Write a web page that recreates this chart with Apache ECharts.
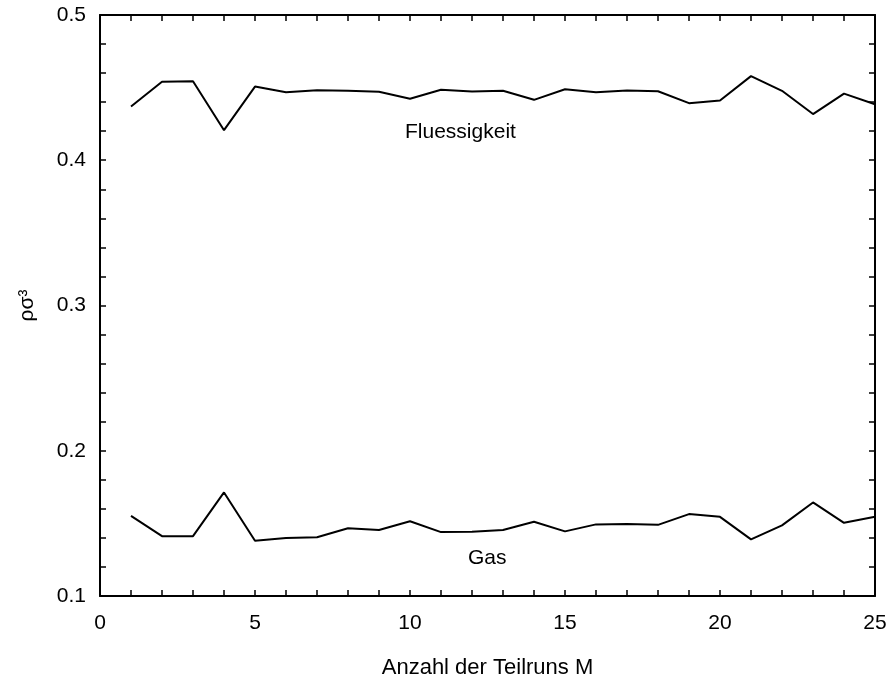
<!DOCTYPE html>
<html>
<head>
<meta charset="utf-8">
<style>
  html, body { margin: 0; padding: 0; background: #fff; }
  #chart { width: 891px; height: 685px; }
</style>
<script src="https://cdn.jsdelivr.net/npm/echarts@6/dist/echarts.min.js"></script>
</head>
<body>
<div id="chart"></div>
<script>
// Number of sub-runs M
const runs = [1, 2, 3, 4, 5, 6, 7, 8, 9, 10, 11, 12, 13, 14, 15, 16, 17, 18, 19, 20, 21, 22, 23, 24, 25];

// Reduced density of the liquid phase per sub-run
const liquidDensity = [0.437, 0.454, 0.4544, 0.4207, 0.4507, 0.4468, 0.4482, 0.4478, 0.4471, 0.4423,
  0.4485, 0.4473, 0.4478, 0.4416, 0.4489, 0.4468, 0.4480, 0.4475, 0.4393, 0.4411,
  0.4579, 0.4478, 0.4318, 0.4459, 0.4386];

// Reduced density of the gas phase per sub-run
const gasDensity = [0.1552, 0.1412, 0.1412, 0.1713, 0.1380, 0.1399, 0.1405, 0.1467, 0.1454, 0.1515,
  0.1440, 0.1442, 0.1454, 0.1511, 0.1445, 0.1493, 0.1495, 0.1490, 0.1564, 0.1545,
  0.1390, 0.1486, 0.1644, 0.1504, 0.1545];

// Labelled tick values
const xTickLabels = [0, 5, 10, 15, 20, 25];
const yTickLabels = ['0.1', '0.2', '0.3', '0.4', '0.5'];

const xTitle = 'Anzahl der Teilruns M';
const yTitle = 'ρσ³';
const liquidLabel = 'Fluessigkeit';
const gasLabel = 'Gas';

const FONT = '"Liberation Sans", Arial, sans-serif';
const FS = 21;

const chart = echarts.init(document.getElementById('chart'), null, { renderer: 'canvas' });

// Frame lines stay on the grid edges instead of snapping to zero
const frameLine = { show: true, onZero: false, lineStyle: { color: '#000', width: 2 } };
const tick = { show: true, inside: true, length: 6, lineStyle: { color: '#000', width: 1.5 } };

// Every small step gets a tick; only the major values get a label
const xFmt = v => (Math.abs(v - Math.round(v)) < 1e-6 && xTickLabels.indexOf(Math.round(v)) >= 0) ? String(Math.round(v)) : '';
const yFmt = v => {
  const s = v.toFixed(1);
  return (Math.abs(v - parseFloat(s)) < 1e-6 && yTickLabels.indexOf(s) >= 0) ? s : '';
};

function pairs(ys) { return runs.map((m, i) => [m, ys[i]]); }

chart.setOption({
  animation: false,
  backgroundColor: '#fff',
  grid: { left: 100, right: 16, top: 15, bottom: 89, containLabel: false },
  xAxis: [
    {
      type: 'value', min: 0, max: 25, interval: 1, position: 'bottom',
      name: xTitle, nameLocation: 'middle', nameGap: 61,
      nameTextStyle: { color: '#000', fontFamily: FONT, fontSize: 22 },
      axisLine: frameLine, axisTick: tick,
      axisLabel: { color: '#000', fontFamily: FONT, fontSize: FS, margin: 17, formatter: xFmt, interval: 0 },
      splitLine: { show: false }
    },
    {
      type: 'value', min: 0, max: 25, interval: 1, position: 'top',
      axisLine: frameLine, axisTick: tick,
      axisLabel: { show: false }, splitLine: { show: false }
    }
  ],
  yAxis: [
    {
      type: 'value', min: 0.1, max: 0.5, interval: 0.02, position: 'left',
      name: yTitle, nameLocation: 'middle', nameGap: 62, nameRotate: 90,
      nameTextStyle: { color: '#000', fontFamily: FONT, fontSize: FS },
      axisLine: frameLine, axisTick: tick,
      axisLabel: { color: '#000', fontFamily: FONT, fontSize: FS, margin: 14, formatter: yFmt, interval: 0 },
      splitLine: { show: false }
    },
    {
      type: 'value', min: 0.1, max: 0.5, interval: 0.02, position: 'right',
      axisLine: frameLine, axisTick: tick,
      axisLabel: { show: false }, splitLine: { show: false }
    }
  ],
  series: [
    {
      name: liquidLabel, type: 'line', data: pairs(liquidDensity),
      showSymbol: false, symbol: 'none',
      lineStyle: { color: '#000', width: 2 }
    },
    {
      name: gasLabel, type: 'line', data: pairs(gasDensity),
      showSymbol: false, symbol: 'none',
      lineStyle: { color: '#000', width: 2 }
    }
  ],
  graphic: [
    { type: 'text', left: 461 - 56, top: 134 - 12,
      style: { text: liquidLabel, fill: '#000', font: FS + 'px ' + FONT } },
    { type: 'text', left: 486 - 18, top: 560 - 12,
      style: { text: gasLabel, fill: '#000', font: FS + 'px ' + FONT } }
  ]
});
</script>
</body>
</html>
